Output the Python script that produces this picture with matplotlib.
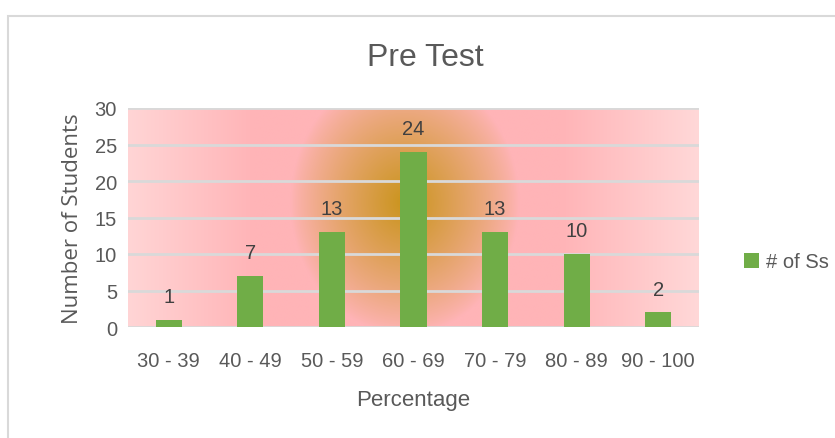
import matplotlib
matplotlib.use('Agg')
import matplotlib.pyplot as plt
import numpy as np
from matplotlib.patches import Rectangle

ranges = ['30 - 39', '40 - 49', '50 - 59', '60 - 69', '70 - 79', '80 - 89', '90 - 100']
num_students = [1, 7, 13, 24, 13, 10, 2]
y_ticks = [0, 5, 10, 15, 20, 25, 30]

plt.rcParams['font.family'] = ['Liberation Sans Narrow', 'Liberation Sans', 'DejaVu Sans']
txt = '#595959'

fig = plt.figure(figsize=(8.35, 4.39), dpi=100)
fig.patches.append(Rectangle((8 / 835, -0.05), 1.05, 1 - 17 / 439 + 0.05, transform=fig.transFigure,
                             facecolor='white', edgecolor='#d9d9d9', linewidth=1.5, zorder=-10))

ax = fig.add_axes([128 / 835, 1 - 328 / 439, 571 / 835, 219 / 439])

# background gradient: pink with golden glow in the middle, lighter at sides
w, h = 600, 240
xx, yy = np.meshgrid(np.linspace(0, 1, w), np.linspace(1, 0, h))
pink = np.array([255, 180, 183]) / 255
edge = np.array([255, 216, 216]) / 255
gold = np.array([202, 148, 28]) / 255
side = np.clip((np.abs(xx - 0.49) - 0.27) / 0.24, 0, 1)[..., None]
base = pink * (1 - side) + edge * side
d = np.sqrt(((xx - 0.485) / 0.20) ** 2 + ((yy - 0.57) / 0.60) ** 2)
g = np.clip(1 - d, 0, 1)[..., None] ** 0.85
img = base * (1 - g) + gold * g
ax.imshow(img, extent=[0, 1, 0, 1], transform=ax.transAxes, aspect='auto', zorder=0)

x = np.arange(len(ranges))
bars = ax.bar(x, num_students, width=0.32, color='#70ad47', zorder=3, label='# of Ss')
for xi, v in zip(x, num_students):
    ax.text(xi, v + 1.9, str(v), ha='center', va='bottom', fontsize=14.5, color='#404040', zorder=4)

ax.set_xlim(-0.5, len(ranges) - 0.5)
ax.set_ylim(0, 30)
ax.set_yticks(y_ticks)
ax.set_xticks(x)
ax.set_xticklabels(ranges)
ax.yaxis.grid(True, color='#d9d9d9', linewidth=2, zorder=1)
ax.set_axisbelow(False)
for s in ax.spines.values():
    s.set_visible(False)
ax.tick_params(length=0, labelsize=14.5, colors=txt, pad=8)
ax.tick_params(axis='x', pad=17)

ax.set_title('Pre Test', fontsize=23, color=txt, pad=31, x=0.52)
ax.set_xlabel('Percentage', fontsize=16, color=txt, labelpad=14)
ax.set_ylabel('Number of Students', fontsize=16, color=txt, labelpad=8,
              family=['Open Sans', 'DejaVu Sans'])

fig.legend(handles=[bars], labels=['# of Ss'], loc='center left', bbox_to_anchor=(726 / 835, 1 - 263 / 439),
           frameon=False, fontsize=14.5, labelcolor=txt, handlelength=0.75, handleheight=0.75, handletextpad=0.35)

fig.savefig('out.png', dpi=100)
